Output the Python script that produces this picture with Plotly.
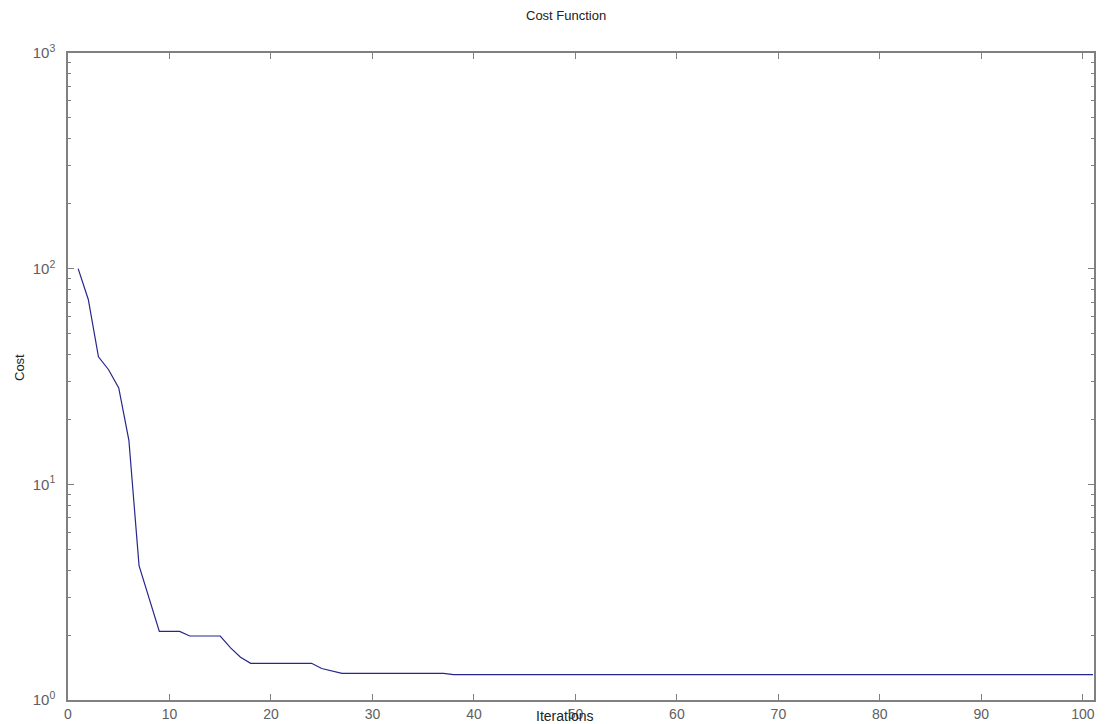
import plotly.graph_objects as go

iterations = list(range(1, 102))
cost_head = [100, 72, 39, 34, 28, 16, 4.2, 2.95, 2.08, 2.08, 2.08,
             1.98, 1.98, 1.98, 1.98, 1.75, 1.58, 1.48, 1.48, 1.48, 1.48,
             1.48, 1.48, 1.48, 1.40, 1.36, 1.33, 1.33, 1.33, 1.33, 1.33,
             1.33, 1.33, 1.33, 1.33, 1.33, 1.33]
cost_tail = [1.31] * (len(iterations) - len(cost_head))
cost = cost_head + cost_tail

x_ticks = [0, 10, 20, 30, 40, 50, 60, 70, 80, 90, 100]
y_ticks = [1, 10, 100, 1000]
y_ticktext = ["10<sup>0</sup>", "10<sup>1</sup>", "10<sup>2</sup>", "10<sup>3</sup>"]
y_minor = [m * d for d in (1, 10, 100) for m in range(2, 10)]

AX = "#808080"
TXT = "#606060"
FONT = "Liberation Sans, Arial, sans-serif"

fig = go.Figure()
fig.add_trace(go.Scatter(x=iterations, y=cost, mode="lines",
                         line=dict(color="#26268c", width=1.2), showlegend=False))

fig.update_layout(
    width=1106, height=724,
    margin=dict(l=68, r=12, t=53, b=24, autoexpand=False),
    paper_bgcolor="white", plot_bgcolor="white",
    font=dict(family=FONT, size=14, color=TXT),
    xaxis=dict(range=[0, 101.1], tickvals=x_ticks, ticks="inside", ticklen=6,
               tickcolor=AX, showline=True, linecolor=AX, linewidth=1.5,
               mirror="ticks", showgrid=False, zeroline=False,
               ticklabelstandoff=0, automargin=False,
               tickfont=dict(size=14, color=TXT)),
    yaxis=dict(type="log", range=[0, 3], tickvals=y_ticks, ticktext=y_ticktext,
               ticks="inside", ticklen=6, tickcolor=AX, showline=True,
               linecolor=AX, linewidth=1.5, mirror="ticks", showgrid=False,
               zeroline=False, ticklabelstandoff=8, automargin=False,
               tickfont=dict(size=15, color=TXT),
               minor=dict(tickvals=y_minor, ticks="inside", ticklen=3,
                          tickcolor=AX, showgrid=False)),
    annotations=[
        dict(text="Cost Function", xref="paper", yref="paper",
             x=(566 - 68) / 1026, y=1 + (53 - 16) / 647, showarrow=False,
             xanchor="center", yanchor="middle",
             font=dict(size=13, color="#222222", family=FONT)),
        dict(text="Iterations", xref="paper", yref="paper",
             x=(565 - 68) / 1026, y=-(716 - 700) / 647, showarrow=False,
             xanchor="center", yanchor="middle",
             font=dict(size=14, color="#222222", family=FONT)),
        dict(text="Cost", xref="paper", yref="paper", textangle=-90,
             x=-(68 - 19) / 1026, y=(700 - 368) / 647, showarrow=False,
             xanchor="center", yanchor="middle",
             font=dict(size=13, color="#222222", family=FONT)),
    ],
)

fig.write_html("out.html")
